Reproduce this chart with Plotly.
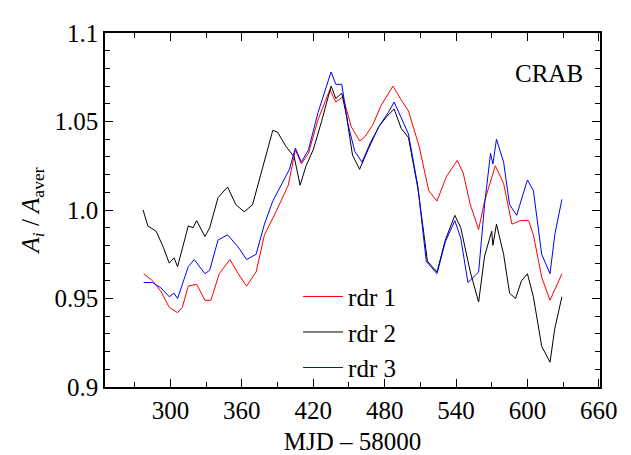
import plotly.graph_objects as go

x1 = [277.5, 285, 292, 299, 306, 310, 315, 322, 329, 334, 341, 350, 357, 364, 372, 379, 388, 399, 405, 410, 416, 424, 434, 439, 445, 452, 459, 463, 470, 477, 487, 494, 500, 509, 517, 524, 532, 541, 546, 552, 559, 564, 573, 580, 587, 594, 601, 605, 612, 619, 629]
y1 = [0.964, 0.960, 0.954, 0.945, 0.942, 0.945, 0.957, 0.958, 0.949, 0.949, 0.964, 0.972, 0.964, 0.957, 0.965, 0.986, 0.998, 1.014, 1.034, 1.026, 1.032, 1.051, 1.068, 1.061, 1.064, 1.047, 1.039, 1.041, 1.048, 1.059, 1.070, 1.062, 1.056, 1.036, 1.011, 1.005, 1.019, 1.028, 1.021, 1.003, 0.989, 1.005, 1.025, 1.015, 0.992, 0.994, 0.994, 0.986, 0.962, 0.949, 0.964]

x2 = [277, 281, 288, 294, 299, 303, 306, 315, 319, 322, 329, 333, 340, 348, 355, 362, 369, 378, 386, 390, 397, 404, 409, 414, 420, 427, 435, 439, 444, 448, 453, 459, 466, 475, 482, 488, 494, 500, 508, 516, 524, 531, 539, 544, 552, 559, 564, 570, 571, 574, 580, 585, 590, 595, 600, 605, 612, 619, 623, 629]
y2 = [1.000, 0.991, 0.988, 0.979, 0.970, 0.973, 0.968, 0.991, 0.990, 0.994, 0.985, 0.990, 1.007, 1.013, 1.003, 0.999, 1.003, 1.026, 1.045, 1.044, 1.036, 1.030, 1.014, 1.025, 1.034, 1.050, 1.070, 1.063, 1.066, 1.053, 1.031, 1.023, 1.034, 1.047, 1.053, 1.057, 1.046, 1.041, 1.012, 0.971, 0.965, 0.983, 0.997, 0.990, 0.965, 0.948, 0.974, 0.988, 0.980, 0.992, 0.975, 0.953, 0.950, 0.960, 0.964, 0.951, 0.923, 0.914, 0.933, 0.951]

x3 = [277.5, 285, 292, 299, 303, 306, 315, 320, 329, 333, 340, 348, 357, 364, 372, 379, 386, 393, 400, 405, 410, 416, 424, 435, 439, 444, 449, 455, 461, 468, 476, 483, 488, 494, 500, 508, 515, 524, 531, 539, 544, 550, 559, 564, 569, 571, 574, 580, 585, 591, 595, 600, 605, 612, 619, 623, 629]
y3 = [0.959, 0.959, 0.956, 0.951, 0.953, 0.950, 0.968, 0.972, 0.964, 0.966, 0.983, 0.986, 0.979, 0.972, 0.975, 0.992, 1.005, 1.014, 1.023, 1.035, 1.027, 1.034, 1.055, 1.078, 1.071, 1.071, 1.049, 1.033, 1.027, 1.038, 1.048, 1.055, 1.061, 1.052, 1.043, 1.013, 0.971, 0.964, 0.982, 0.994, 0.984, 0.959, 0.965, 1.003, 1.032, 1.026, 1.040, 1.027, 1.003, 0.997, 1.006, 1.017, 1.011, 0.975, 0.964, 0.986, 1.006]

xticks = [300, 360, 420, 480, 540, 600, 660]
yticks = [0.9, 0.95, 1.0, 1.05, 1.1]
ylabels = ["0.9", "0.95", "1.0", "1.05", "1.1"]

serif = "Liberation Serif"
fs = 25

fig = go.Figure()
fig.add_trace(go.Scatter(x=x1, y=y1, mode="lines", name="rdr 1", line=dict(color="red", width=1)))
fig.add_trace(go.Scatter(x=x2, y=y2, mode="lines", name="rdr 2", line=dict(color="black", width=1)))
fig.add_trace(go.Scatter(x=x3, y=y3, mode="lines", name="rdr 3", line=dict(color="blue", width=1)))

axis_common = dict(showline=True, linecolor="black", linewidth=1.5, mirror="ticks",
                   ticks="inside", ticklen=8, tickcolor="black", showgrid=False, zeroline=False,
                   tickfont=dict(size=fs, family=serif, color="black"))
fig.update_xaxes(range=[245, 661], tickvals=xticks,
                 minor=dict(dtick=30, tick0=0, ticks="inside", ticklen=5, tickcolor="black"),
                 title=dict(text="MJD \u2013 58000", font=dict(size=fs, family=serif), standoff=10), **axis_common)
fig.update_yaxes(range=[0.9, 1.1], tickvals=yticks, ticktext=ylabels,
                 minor=dict(dtick=0.01, tick0=0, ticks="inside", ticklen=5, tickcolor="black"),
                 title=dict(text="<i>A<sub>i</sub></i> / <i>A</i><sub>aver</sub>", font=dict(size=fs, family=serif), standoff=8),
                 **axis_common)

fig.add_annotation(x=0.97, y=0.93, xref="paper", yref="paper", text="CRAB", showarrow=False,
                   xanchor="right", yanchor="top", font=dict(size=fs, family=serif))

fig.update_layout(width=631, height=455, margin=dict(l=97, r=39, t=23, b=75),
                  plot_bgcolor="white", paper_bgcolor="white",
                  font=dict(family=serif, color="black", size=fs),
                  legend=dict(x=0.39, y=0.32, xanchor="left", yanchor="top", bgcolor="rgba(0,0,0,0)",
                              font=dict(size=fs, family=serif), itemwidth=40, tracegroupgap=0),
                  showlegend=True)

fig.write_html("out.html")
